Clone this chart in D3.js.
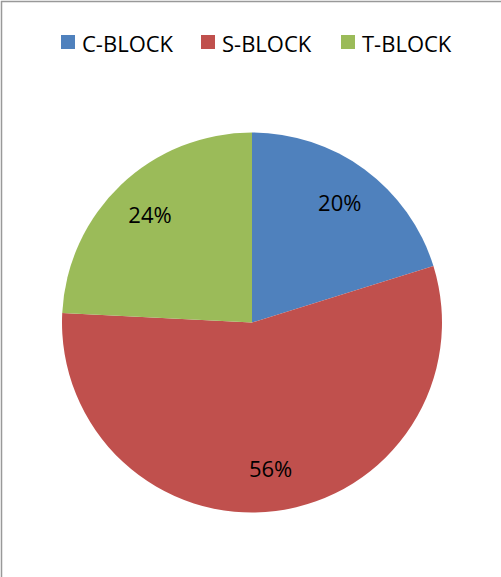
<!DOCTYPE html>
<html><head><meta charset="utf-8">
<script src="https://cdn.jsdelivr.net/npm/d3@7"></script>
<style>html,body{margin:0;padding:0;background:#fff;overflow:hidden}</style>
</head><body>
<script>
const categories = ["C-BLOCK", "S-BLOCK", "T-BLOCK"];
const values = [20.2, 55.6, 24.2];
const colors = ["#4F81BD", "#C0504D", "#9BBB59"];

const W = 501, H = 577;
const svg = d3.select("body").append("svg").attr("width", W).attr("height", H);
const font = "'Open Sans', 'Noto Sans', sans-serif";

// frame
svg.append("rect").attr("x", 1.5).attr("y", 1.5).attr("width", 700).attr("height", 700)
  .attr("fill", "none").attr("stroke", "#999").attr("stroke-width", 1.5);

const cx = 252, cy = 322.5, r = 190;
const data = categories.map((c, i) => ({ cat: c, value: values[i], color: colors[i] }));
const total = d3.sum(values);
const pie = d3.pie().value(d => d.value).sort(null);
const arc = d3.arc().innerRadius(0).outerRadius(r);

const g = svg.append("g").attr("transform", `translate(${cx},${cy})`);
const arcs = pie(data);
g.selectAll("path").data(arcs).join("path")
  .attr("d", arc).attr("fill", d => d.data.color);

const lr = 148;
g.selectAll("text.lbl").data(arcs).join("text").attr("class", "lbl")
  .attr("x", d => { const a = (d.startAngle + d.endAngle) / 2; return lr * Math.sin(a); })
  .attr("y", d => { const a = (d.startAngle + d.endAngle) / 2; return -lr * Math.cos(a); })
  .attr("dy", "0.36em")
  .attr("text-anchor", "middle")
  .attr("font-family", font).attr("font-size", 22).attr("fill", "#000")
  .text(d => Math.round(d.data.value / total * 100) + "%");

// legend
const lx = d3.scaleOrdinal().domain(categories).range([61, 201, 341]);
const leg = svg.append("g").selectAll("g").data(data).join("g")
  .attr("transform", d => `translate(${lx(d.cat)},35)`);
leg.append("rect").attr("width", 14).attr("height", 14).attr("fill", d => d.color);
leg.append("text").attr("x", 21).attr("y", 17)
  .attr("font-family", font).attr("font-size", 22).attr("fill", "#000")
  .text(d => d.cat);
</script>
</body></html>
